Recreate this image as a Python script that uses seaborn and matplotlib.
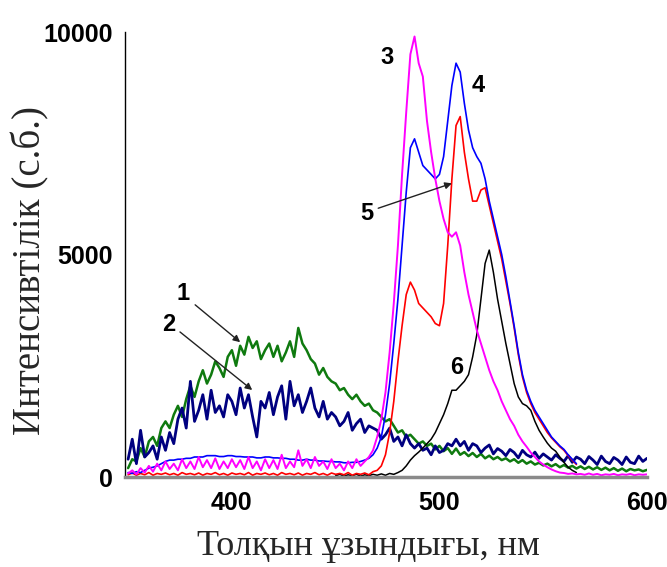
import numpy as np
import pandas as pd
import matplotlib
matplotlib.use("Agg")
import matplotlib.pyplot as plt
import seaborn as sns

start_green = 350
green_1 = [200, 400, 350, 650, 450, 800, 900, 700, 1100, 1250,
           1100, 1400, 1600, 1350, 1750, 2050, 1800, 2150, 2400, 2100,
           2300, 2600, 2450, 2250, 2700, 2850, 2500, 2950, 2750, 3150,
           2900, 3050, 2650, 2850, 3000, 2700, 2950, 2600, 2800, 3050,
           2700, 3350, 3000, 2850, 2650, 2550, 2300, 2450, 2250, 2150,
           2100, 1950, 2000, 1850, 1750, 1850, 1700, 1600, 1650, 1500,
           1450, 1350, 1250, 1300, 1150, 1000, 1050, 900, 950, 850,
           750, 800, 700, 750, 620, 700, 580, 650, 520, 640,
           500, 560, 470, 540, 450, 520, 420, 480, 400, 450,
           380, 420, 350, 400, 320, 380, 300, 350, 280, 320,
           260, 300, 240, 290, 220, 270, 210, 250, 190, 240,
           180, 230, 170, 220, 160, 210, 150, 200, 140, 190,
           130, 180, 150, 170, 130, 160]

start_navy = 350
navy_2 = [400, 850, 300, 1050, 450, 550, 700, 400, 900, 600,
          1000, 750, 1300, 1550, 1100, 2150, 1250, 1500, 1850, 1300,
          1950, 1450, 1600, 1350, 1850, 1700, 1400, 2000, 1550, 1850,
          1350, 900, 1700, 1550, 1900, 1400, 1800, 2050, 1300, 2150,
          1600, 1850, 1450, 1700, 2000, 1550, 1350, 1700, 1300, 1450,
          1350, 1150, 1250, 1450, 1050, 1200, 1300, 1000, 1150, 1100,
          1050, 850, 950, 1100, 800, 900, 700, 950, 750, 650,
          750, 600, 650, 500, 700, 550, 600, 750, 700, 850,
          700, 800, 600, 750, 700, 550, 650, 720, 520, 640,
          580, 480, 620, 550, 430, 600, 500, 450, 560, 420,
          520, 450, 380, 500, 420, 350, 480, 330, 450, 400,
          300, 460, 380, 280, 470, 350, 300, 440, 380, 280,
          450, 330, 300, 470, 350, 420]

start_magenta = 350
magenta_3 = [80, 150, 60, 200, 100, 250, 120, 300, 150, 350,
             180, 300, 150, 400, 200, 350, 180, 450, 220, 380,
             200, 420, 180, 350, 200, 400, 220, 380, 180, 450,
             200, 350, 150, 400, 200, 380, 180, 500, 200, 350,
             220, 600, 250, 400, 200, 450, 250, 350, 180, 400,
             200, 300, 150, 350, 200, 400, 250, 350, 450, 600,
             900, 1300, 1900, 2800, 3900, 5200, 6800, 8200, 9500, 9900,
             9300, 9000, 8000, 7300, 6700, 6200, 5800, 5500, 5400, 5500,
             5200, 4600, 4100, 3700, 3300, 3000, 2700, 2400, 2150, 1950,
             1700, 1500, 1300, 1150, 950, 800, 680, 550, 450, 350,
             280, 220, 170, 130, 100, 90, 70, 80, 60, 70,
             50, 80, 50, 70, 40, 60, 50, 70, 40, 60,
             50, 70, 40, 60, 50, 60]

start_blue = 350
blue_4 = [100, 80, 120, 100, 150, 200, 220, 250, 300, 350,
          380, 380, 400, 400, 420, 420, 450, 450, 450, 480,
          480, 480, 460, 460, 480, 480, 460, 460, 450, 450,
          450, 430, 430, 450, 450, 430, 430, 420, 420, 400,
          400, 380, 380, 400, 380, 380, 360, 360, 350, 350,
          340, 340, 320, 320, 330, 330, 350, 380, 420, 500,
          650, 900, 1400, 2100, 3000, 4000, 5200, 6400, 7400, 7600,
          7300, 7000, 6900, 6800, 6700, 6800, 7200, 8000, 8800, 9300,
          9100, 8400, 7800, 7400, 7200, 7050, 6700, 6200, 5800, 5400,
          5000, 4500, 3950, 3400, 2800, 2300, 1950, 1700, 1500, 1350,
          1200, 1050, 900, 800, 700, 620, 500, 400, 300]

start_red = 350
red_5 = [50, 90, 40, 80, 50, 100, 40, 80, 60, 90,
         50, 80, 40, 100, 60, 80, 50, 90, 40, 80,
         60, 100, 50, 80, 40, 90, 60, 80, 50, 100,
         40, 80, 60, 90, 50, 80, 40, 100, 60, 80,
         50, 90, 40, 80, 60, 100, 50, 80, 40, 90,
         60, 80, 50, 100, 40, 80, 60, 90, 50, 120,
         150, 250, 500, 1000, 1700, 2600, 3400, 4100, 4380, 4200,
         3900, 3800, 3700, 3600, 3450, 3400, 3900, 5200, 6700, 7900,
         8100, 7300, 6700, 6200, 6200, 6450, 6500, 6100, 5700, 5300,
         4900, 4400, 3900, 3350, 2750, 2250, 1900, 1650, 1450, 1300,
         1150, 1000, 880, 780, 680, 600, 480, 380, 280]

start_black = 450
black_6 = [30, 60, 20, 50, 30, 60, 20, 50, 30, 60,
           40, 70, 40, 80, 60, 100, 150, 250, 380, 480,
           560, 650, 750, 850, 1000, 1200, 1400, 1650, 1950, 1950,
           2050, 2150, 2300, 2700, 3200, 4000, 4800, 5100, 4600, 4000,
           3500, 3000, 2550, 2100, 1800, 1650, 1600, 1500, 1250, 1050,
           900, 760, 650, 580, 450, 330, 220, 150, 100]

curves = [
    ("1", start_green, green_1, "#0f7a0f", 1.8),
    ("2", start_navy, navy_2, "#000080", 2.0),
    ("6", start_black, black_6, "black", 1.1),
    ("5", start_red, red_5, "#ff0000", 1.2),
    ("4", start_blue, blue_4, "#0000ff", 1.2),
    ("3", start_magenta, magenta_3, "#ff00ff", 1.4),
]

sns.set_style("white")
fig = plt.figure(figsize=(6.67, 5.67), dpi=100)
ax = fig.add_axes([0.1874, 0.1587, 0.7826, 0.7848])

for name, x0, vals, col, lw in curves:
    df = pd.DataFrame({"wl": x0 + 2 * np.arange(len(vals)), "I": vals})
    sns.lineplot(data=df, x="wl", y="I", color=col, linewidth=lw,
                 estimator=None, ax=ax)

ax.set_xlim(348.5, 600)
ax.set_ylim(0, 10000)
ax.set_xticks([400, 500, 600])
ax.set_xticks([450, 550], minor=True)
ax.set_yticks([0, 5000, 10000])
ax.set_yticks([2500, 7500], minor=True)

for s in ["top", "right"]:
    ax.spines[s].set_visible(False)
ax.spines["left"].set_color("black")
ax.spines["left"].set_linewidth(1.0)
ax.spines["bottom"].set_color("#8a8a8a")
ax.spines["bottom"].set_linewidth(2.5)

ax.tick_params(which="major", direction="out", length=5, width=1,
               colors="black", pad=4)
ax.tick_params(which="minor", direction="in", length=3, width=1,
               colors="black")
ax.tick_params(axis="x", which="major", length=4, pad=6)
for lab in ax.get_xticklabels() + ax.get_yticklabels():
    lab.set_family(["Liberation Sans", "DejaVu Sans"])
    lab.set_fontweight("bold")
    lab.set_fontsize(18)

serif = ["Liberation Serif", "DejaVu Serif"]
ax.set_xlabel("Толқын ұзындығы, нм", family=serif, fontsize=26)
ax.set_ylabel("Интенсивтілік (с.б.)", family=serif, fontsize=28)
ax.xaxis.set_label_coords(0.466, -0.118)
ax.yaxis.set_label_coords(-0.145, 0.465)

# curve numbers and pointer arrows
lab_font = dict(family=["Liberation Sans", "DejaVu Sans"], fontsize=17,
                fontweight="bold", color="black", ha="center", va="center")
ax.text(376.5, 4130, "1", **lab_font)
ax.text(369.5, 3420, "2", **lab_font)
ax.text(474.8, 9420, "3", **lab_font)
ax.text(518.5, 8800, "4", **lab_font)
ax.text(465, 5930, "5", **lab_font)
ax.text(508.5, 2470, "6", **lab_font)
arrow = dict(arrowstyle="-|>", color="#222222", lw=1.0,
             mutation_scale=10, shrinkA=0, shrinkB=0)
ax.annotate("", xy=(404, 3030), xytext=(382.3, 3870), arrowprops=arrow)
ax.annotate("", xy=(409.8, 1955), xytext=(375, 3260), arrowprops=arrow)
ax.annotate("", xy=(506, 6600), xytext=(470.5, 6040), arrowprops=arrow)

plt.savefig("out.png", dpi=100)
